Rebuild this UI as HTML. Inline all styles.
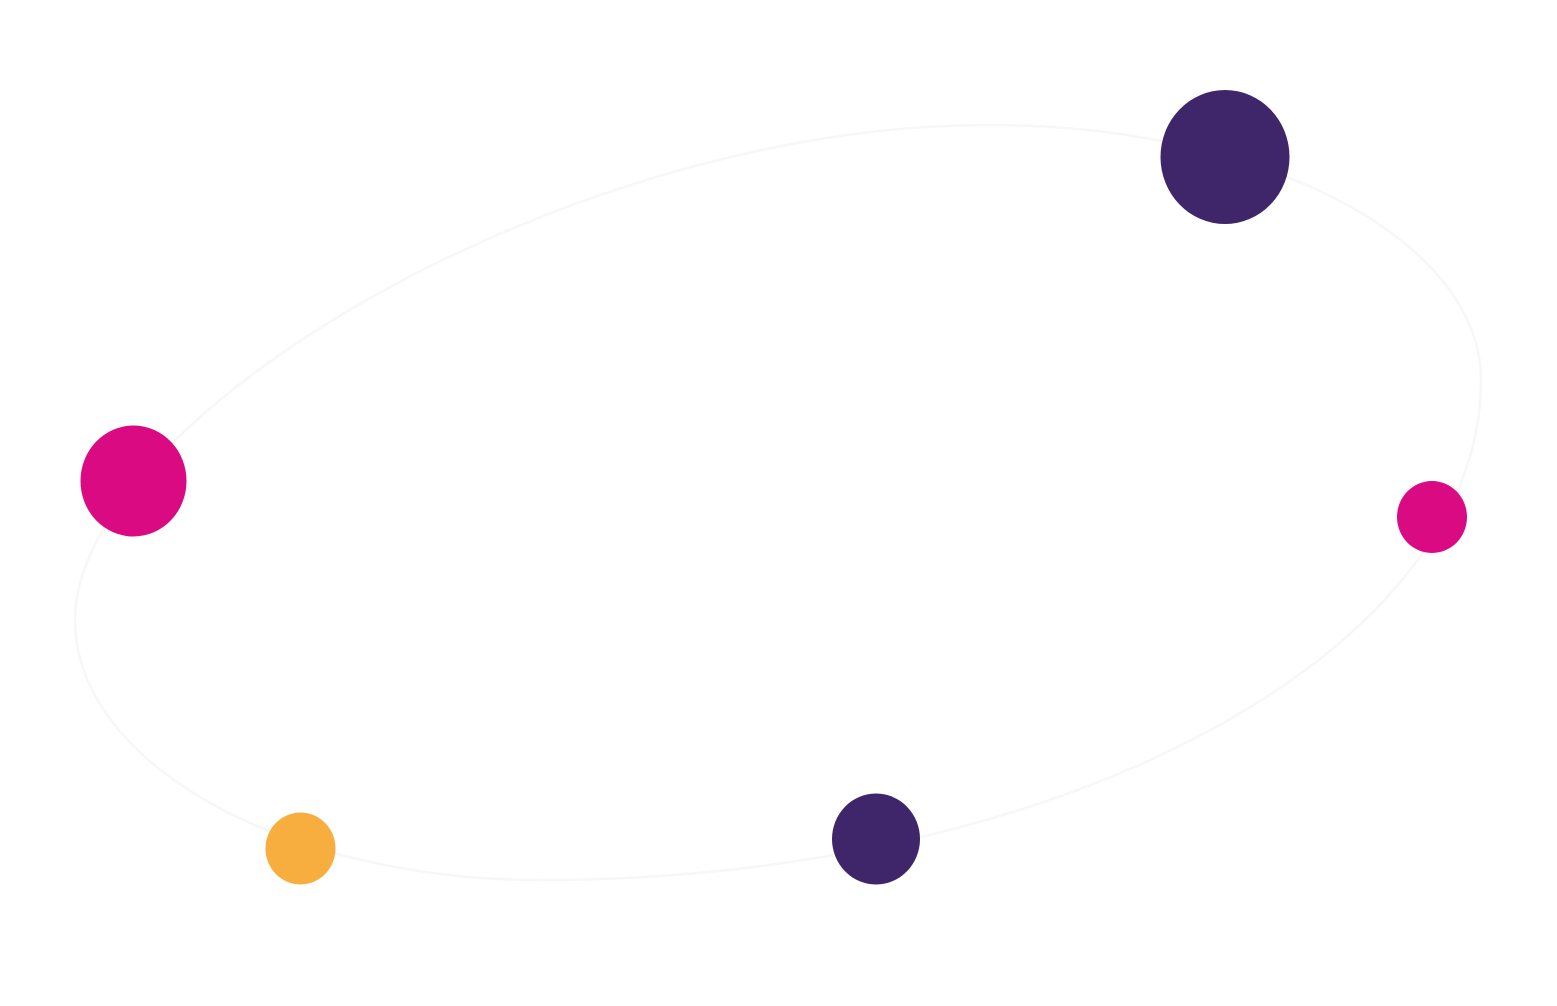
<!DOCTYPE html>
<html><head><meta charset="utf-8"><style>
html,body{margin:0;padding:0;background:#fff;}
svg{display:block;}
</style></head><body>
<svg width="1557" height="1006" viewBox="0 0 1557 1006" xmlns="http://www.w3.org/2000/svg">
<rect width="1557" height="1006" fill="#ffffff"/>
<path d="M990,125 C1261,125 1481,239 1481,380 C1481,655 1058,880 540,880 C284,880 75,763 75,620 C75,420 560,125 990,125 Z" fill="none" stroke="#f7f7f7" stroke-width="2.5"/>
<ellipse cx="1225" cy="157" rx="64.5" ry="67" fill="#3F266B"/>
<ellipse cx="133.5" cy="481" rx="53" ry="55.5" fill="#DA0A82"/>
<ellipse cx="1432" cy="517" rx="35" ry="36" fill="#DA0A82"/>
<ellipse cx="876" cy="839" rx="44" ry="45.5" fill="#3F266B"/>
<ellipse cx="300.5" cy="848.5" rx="35" ry="36" fill="#F7AE3E"/>
</svg>
</body></html>
